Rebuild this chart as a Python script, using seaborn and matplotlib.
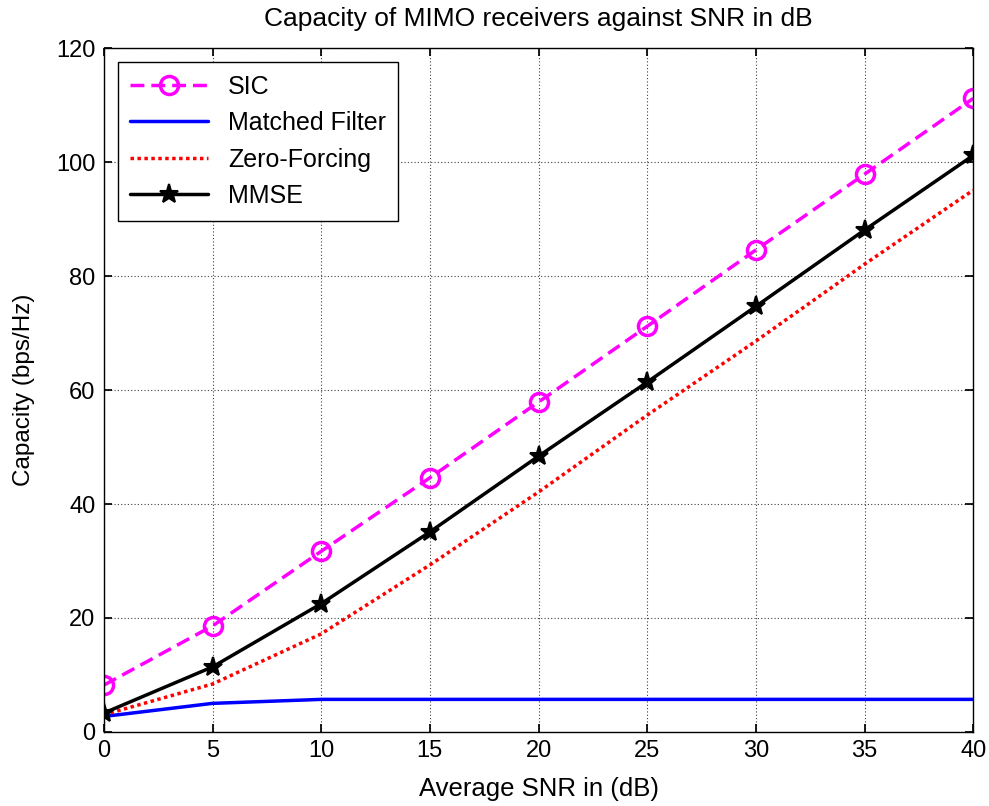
import matplotlib
matplotlib.use("Agg")
import matplotlib.pyplot as plt
import seaborn as sns

snr = [0, 5, 10, 15, 20, 25, 30, 35, 40]
sic = [8.2, 18.6, 31.7, 44.6, 57.9, 71.2, 84.6, 97.9, 111.2]
matched_filter = [2.7, 5.0, 5.7, 5.7, 5.7, 5.7, 5.7, 5.7, 5.7]
zero_forcing = [3.0, 8.4, 17.2, 29.3, 42.1, 55.6, 68.6, 82.1, 95.1]
mmse = [3.3, 11.4, 22.5, 35.1, 48.4, 61.4, 74.7, 88.1, 101.2]

sns.set_theme(style="white")
plt.rcParams['font.family'] = ['Liberation Sans', 'DejaVu Sans']
plt.rcParams['text.color'] = 'black'
plt.rcParams['axes.labelcolor'] = 'black'

fig = plt.figure(figsize=(9.89, 8.06), dpi=100)
ax = fig.add_axes([0.105, 0.092, 0.879, 0.848])

sns.lineplot(x=snr, y=sic, ax=ax, color="#ff00ff", linestyle=(0, (4, 2)), linewidth=2.5,
             marker="o", markersize=13, markerfacecolor="none", markeredgecolor="#ff00ff",
             markeredgewidth=2.5, label="SIC")
sns.lineplot(x=snr, y=matched_filter, ax=ax, color="#0000ff", linewidth=2.5, label="Matched Filter")
sns.lineplot(x=snr, y=zero_forcing, ax=ax, color="#ff0000", linestyle=(0, (1, 1)), linewidth=2.5,
             label="Zero-Forcing")
sns.lineplot(x=snr, y=mmse, ax=ax, color="black", linewidth=2.5, marker="*", markersize=14,
             markerfacecolor="black", markeredgecolor="black", markeredgewidth=1.5, label="MMSE")

ax.set_xlim(0, 40)
ax.set_ylim(0, 120)
ax.set_xticks(range(0, 41, 5))
ax.set_yticks(range(0, 121, 20))
ax.grid(True, color="#404040", linestyle=(0, (1, 2)), linewidth=0.8)
for s in ax.spines.values():
    s.set_color("black")
    s.set_linewidth(1.0)
ax.tick_params(direction="in", length=6, labelsize=17, colors="black", top=True, right=True,
               bottom=True, left=True, pad=6)
ax.set_xlabel("Average SNR in (dB)", fontsize=18.5, labelpad=11)
ax.set_ylabel("Capacity (bps/Hz)", fontsize=17.5, labelpad=15)
ax.set_title("Capacity of MIMO receivers against SNR in dB", fontsize=19, pad=16)

leg = ax.legend(loc="upper left", fontsize=18, frameon=True, fancybox=False, edgecolor="black",
                framealpha=1, borderpad=0.5, handlelength=3.1, labelspacing=0.5,
                borderaxespad=0, bbox_to_anchor=(0.016, 0.98))
leg.get_frame().set_linewidth(1.0)

fig.savefig("out.png", dpi=100)
